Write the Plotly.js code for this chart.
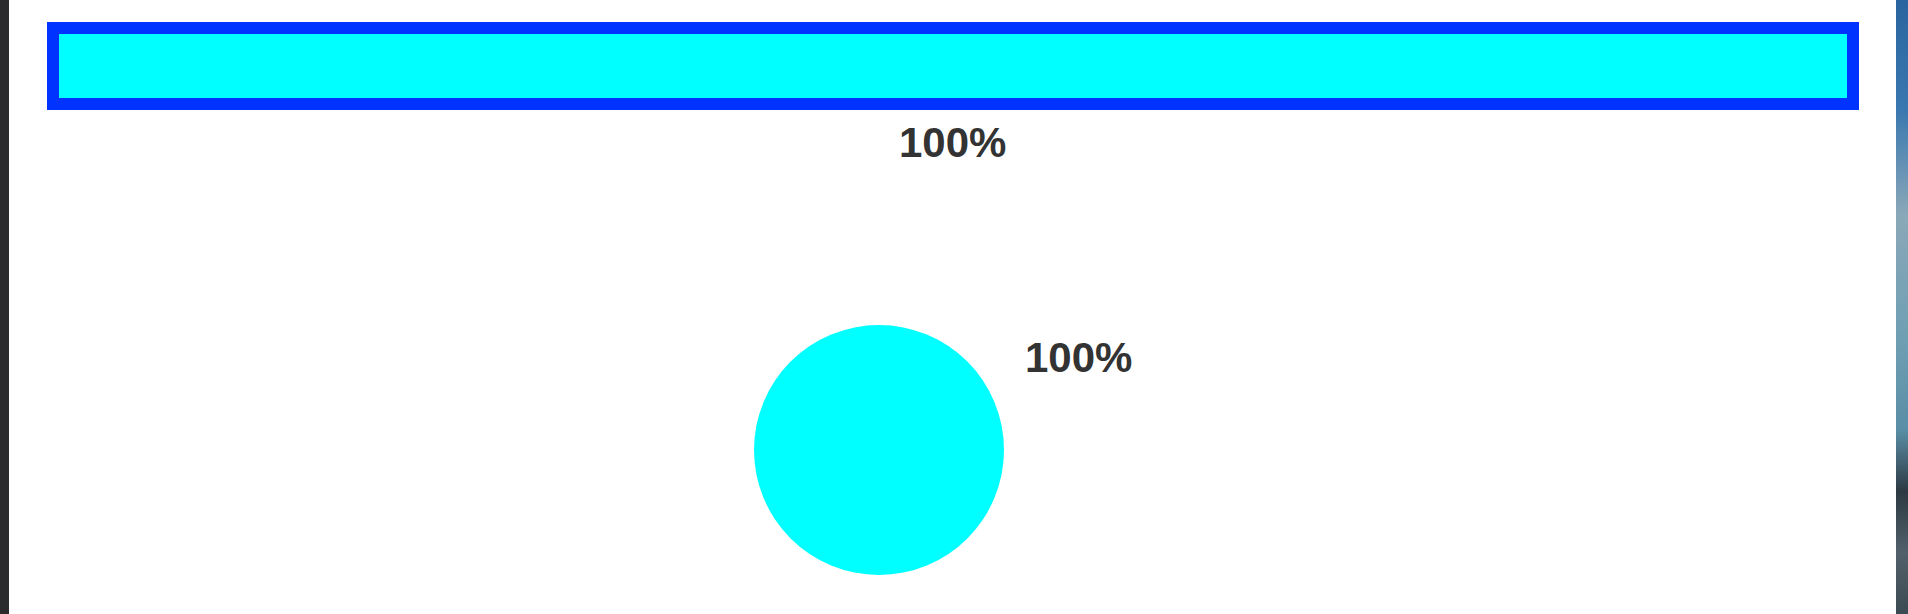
<!DOCTYPE html>
<html>
<head>
<meta charset="utf-8">
<script src="https://cdn.plot.ly/plotly-3.0.1.min.js"></script>
<style>
  html, body { margin: 0; padding: 0; width: 1908px; height: 614px; overflow: hidden; background: #ffffff; }
  #leftStrip { position: absolute; left: 0; top: 0; width: 9px; height: 614px; background: #2b2b2d; }
  #rightStrip { position: absolute; left: 1896px; top: 0; width: 12px; height: 614px;
    background: linear-gradient(to bottom, #2a64a0 0%, #3a78b0 18%, #8aa8b8 35%, #6f9fb3 55%, #5a8ea6 70%, #2d3a44 80%, #51606a 90%, #3c4a52 100%); }
  #chart { position: absolute; left: 0; top: 0; width: 1908px; height: 614px; }
</style>
</head>
<body>
<div id="leftStrip"></div>
<div id="rightStrip"></div>
<div id="chart"></div>
<script>
// ---- data ----
var categories = ['Progress'];
var barValues = [100];     // percent complete
var pieLabels = ['Completed'];
var pieValues = [100];
var valueSuffix = '%';

// ---- styles ----
var fillColor = '#00ffff';
var borderColor = '#0033ff';
var textColor = '#333333';
var labelFont = { family: '"Liberation Sans", Arial, Helvetica, sans-serif', size: 42, color: textColor, weight: 'bold' };

var W = 1908, H = 614;
function px(x) { return x / W; }
function py(y) { return (H - y) / H; }

var barTrace = {
  type: 'bar',
  orientation: 'h',
  x: barValues,
  y: [0],
  width: 1,
  marker: { color: fillColor, line: { color: borderColor, width: 12 } },
  hoverinfo: 'none',
  showlegend: false,
  xaxis: 'x', yaxis: 'y'
};

var pieTrace = {
  type: 'pie',
  labels: pieLabels,
  values: pieValues,
  marker: { colors: [fillColor], line: { width: 0 } },
  textinfo: 'none',
  hoverinfo: 'none',
  sort: false,
  showlegend: false,
  domain: { x: [px(754), px(1004)], y: [py(575), py(325)] }
};

var layout = {
  width: W, height: H,
  margin: { l: 0, r: 0, t: 0, b: 0, pad: 0 },
  paper_bgcolor: 'rgba(0,0,0,0)',
  plot_bgcolor: 'rgba(0,0,0,0)',
  showlegend: false,
  xaxis: {
    domain: [px(40), px(1866)],
    range: [-13 / 18, 100 + 13 / 18],
    visible: false, fixedrange: true
  },
  yaxis: {
    domain: [py(118), py(14)],
    range: [-0.5 - 14 / 76, 0.5 + 14 / 76],
    visible: false, fixedrange: true
  },
  annotations: [
    {
      xref: 'paper', yref: 'paper',
      x: px(952.5), y: py(142.5),
      xanchor: 'center', yanchor: 'middle',
      text: barValues[0] + valueSuffix,
      showarrow: false,
      font: labelFont
    },
    {
      xref: 'paper', yref: 'paper',
      x: px(1023), y: py(357.5),
      xanchor: 'left', yanchor: 'middle',
      text: pieValues[0] + valueSuffix,
      showarrow: false,
      font: labelFont
    }
  ]
};

Plotly.newPlot('chart', [barTrace, pieTrace], layout, { displayModeBar: false, staticPlot: true });
</script>
</body>
</html>
